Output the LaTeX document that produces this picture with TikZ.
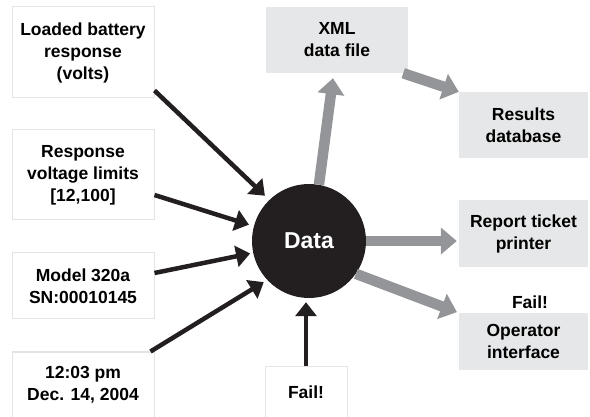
\documentclass[tikz,border=0pt]{standalone}
\usepackage{fontspec}
\setmainfont{Liberation Sans}
\usetikzlibrary{arrows.meta}
\definecolor{inkblack}{HTML}{231F20}
\definecolor{flowgray}{HTML}{939598}
\definecolor{boxgray}{HTML}{E6E7E8}
\definecolor{rimgray}{HTML}{E4E4E4}

\begin{document}
\begin{tikzpicture}[
    x=1pt, y=-1pt,
    font=\fontsize{17.5}{22}\selectfont\bfseries,
    inbox/.style={draw=rimgray,line width=1pt,fill=white,align=center,inner sep=0pt,minimum width=142pt},
    outbox/.style={fill=boxgray,align=center,inner sep=0pt},
    hub/.style={circle,fill=inkblack,text=white,minimum size=114pt,inner sep=0pt,font=\fontsize{23}{26}\selectfont\bfseries},
    inarrow/.style={draw=inkblack,line width=4.5pt,-{Triangle[width=21pt,length=14pt]}},
    outarrow/.style={draw=flowgray,line width=10.5pt,-{Triangle[width=26pt,length=16pt]}}
    ]

    \useasboundingbox (0,0) rectangle (590,417);

    % inputs
    \node[inbox, minimum height=91pt] (battery) at (83,52.5) {Loaded battery\\response\\(volts)};
    \node[inbox, minimum height=90pt] (limits) at (83,175) {Response\\voltage limits\\{[}12,100{]}};
    \node[inbox, minimum height=66pt] (model) at (83,286) {Model 320a\\SN:00010145};
    \node[inbox, minimum height=66pt] (stamp) at (83,385) {12:03 pm\\Dec. 14, 2004};
    \node[inbox, minimum width=82pt, minimum height=52pt] (failbox) at (306,392) {Fail!};

    % hub
    \node[hub] (data) at (309,241) {Data};

    % outputs
    \node[outbox, minimum width=142pt, minimum height=66pt] (xml) at (337,40) {XML\\data file};
    \node[outbox, minimum width=129pt, minimum height=66pt] (results) at (523.5,125) {Results\\database};
    \node[outbox, minimum width=129pt, minimum height=67pt] (report) at (523.5,233.5) {Report ticket\\printer};
    \node[outbox, minimum width=129pt, minimum height=57pt] (operator) at (523.5,341.5) {Operator\\interface};
    \node (failnote) at (530,302) {Fail!};

    \path ([yshift=8pt]battery.south east) edge[inarrow, shorten >=6pt] (data.134)
    ([yshift=-20pt]limits.east) edge[inarrow, shorten >=5pt] (data.165)
    ([yshift=13pt]model.east) edge[inarrow, shorten >=3pt] (data.192)
    ([xshift=-4pt]stamp.north east) edge[inarrow, shorten >=4pt] (data.223)
    (failbox.north) edge[inarrow, shorten >=4pt] (failbox.north |- data.south)
    ;

    \path (data.80) edge[outarrow] ([xshift=-4pt,yshift=-5pt]xml.south)
    ([xshift=-5pt]xml.south east) edge[outarrow] (results.north west)
    (data.east) edge[outarrow, shorten >=2pt] (report.west |- data.east)
    (data.-35) edge[outarrow, shorten >=2pt] (operator.north west)
    ;

  \end{tikzpicture}
\end{document}
